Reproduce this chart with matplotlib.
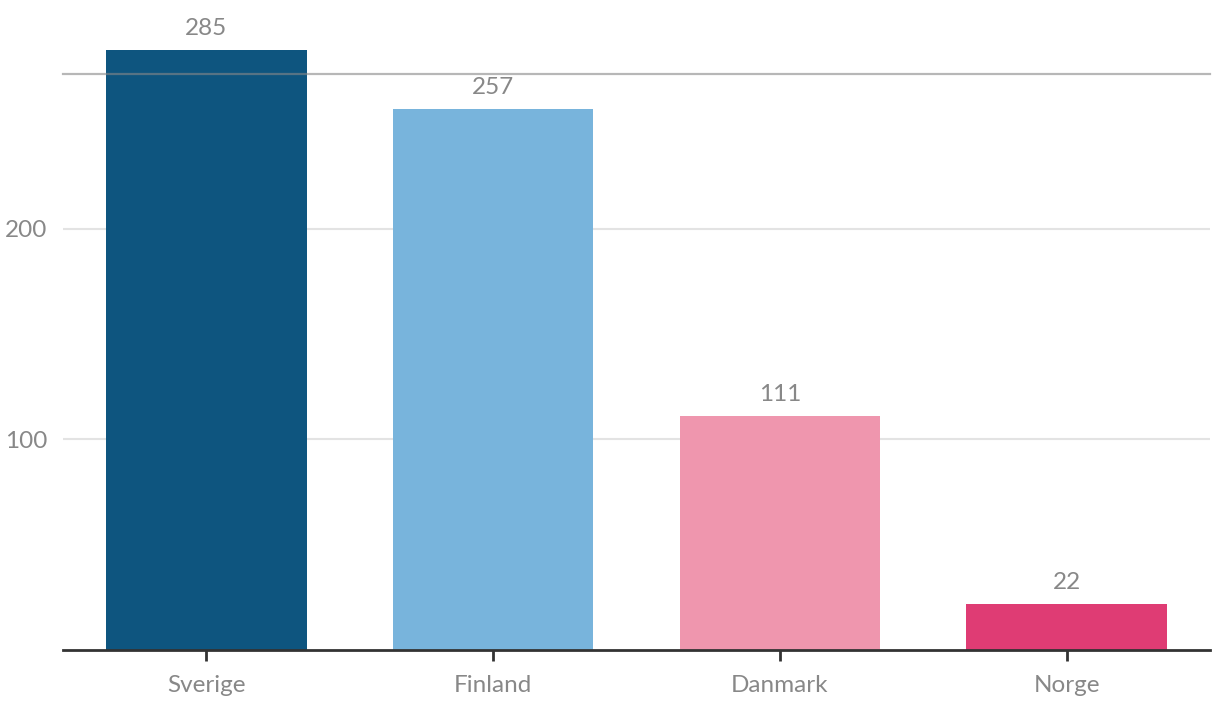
import matplotlib
matplotlib.use("Agg")
import matplotlib.pyplot as plt

categories = ["Sverige", "Finland", "Danmark", "Norge"]
values = [285, 257, 111, 22]
colors = ["#0e557f", "#78b4dc", "#ef96ae", "#df3c74"]
yticks = [100, 200]
ytop = 273.6

plt.rcParams['font.family'] = ['Lato', 'DejaVu Sans']

W, H = 1220, 716
fig = plt.figure(figsize=(W / 100, H / 100), dpi=100)
ax = fig.add_axes([63 / W, (H - 650) / H, 1147 / W, 576 / H])

x = list(range(len(categories)))
bars = ax.bar(x, values, width=0.7, color=colors, zorder=2, clip_on=False)

ax.set_xlim(-0.5, len(categories) - 0.5)
ax.set_ylim(0, ytop)

for s in ["left", "right", "top"]:
    ax.spines[s].set_visible(False)
ax.spines["bottom"].set_color("#333333")
ax.spines["bottom"].set_linewidth(2)
ax.spines["bottom"].set_zorder(3)

ax.axhline(ytop, color="#888888", alpha=0.6, lw=1.6, zorder=4, clip_on=False)

ax.set_yticks(yticks)
ax.set_yticklabels([str(v) for v in yticks])
ax.yaxis.grid(True, color="#e3e3e3", lw=1.5, zorder=0)
ax.set_axisbelow(True)
ax.tick_params(axis="y", length=0, pad=11, labelsize=17.5, labelcolor="#888888")

ax.set_xticks(x)
ax.set_xticklabels(categories)
ax.tick_params(axis="x", length=8, width=2, color="#333333", pad=10,
               labelsize=17.5, labelcolor="#888888")

for xi, v in zip(x, values):
    ax.annotate(str(v), (xi, v), xytext=(0, 8), textcoords="offset points",
                ha="center", va="bottom", fontsize=17.5, color="#888888",
                annotation_clip=False)

fig.savefig("out.png", dpi=100)
